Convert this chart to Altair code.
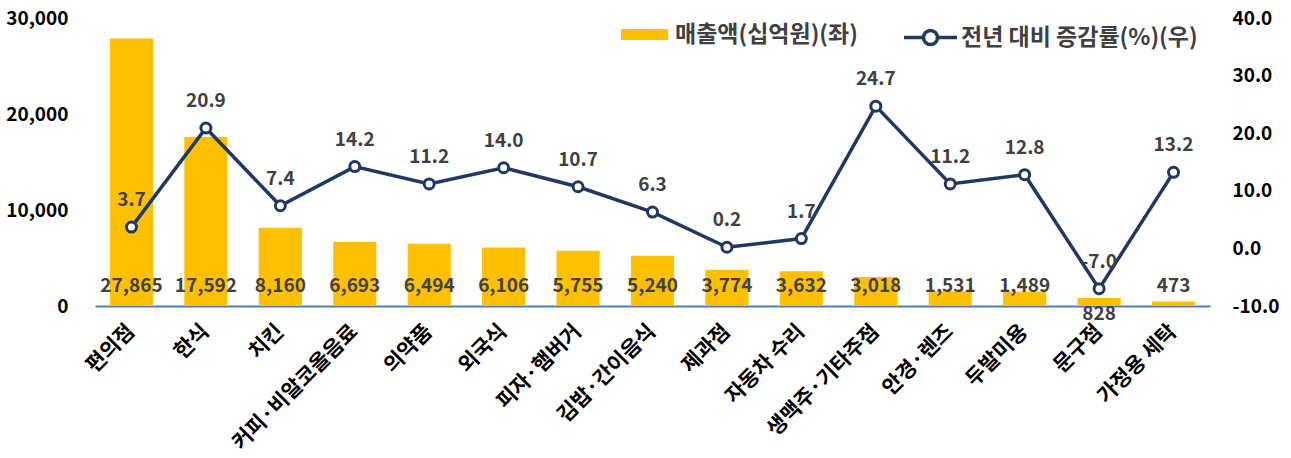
import altair as alt
import pandas as pd

categories = ["편의점", "한식", "치킨", "커피·비알코올음료", "의약품", "외국식", "피자·햄버거",
              "김밥·간이음식", "제과점", "자동차 수리", "생맥주·기타주점", "안경·렌즈", "두발미용",
              "문구점", "가정용 세탁"]
sales = [27865, 17592, 8160, 6693, 6494, 6106, 5755, 5240, 3774, 3632, 3018, 1531, 1489, 828, 473]
growth = [3.7, 20.9, 7.4, 14.2, 11.2, 14.0, 10.7, 6.3, 0.2, 1.7, 24.7, 11.2, 12.8, -7.0, 13.2]
bar_name = "매출액(십억원)(좌)"
line_name = "전년 대비 증감률(%)(우)"

df = pd.DataFrame({"cat": categories, "sales": sales, "growth": growth})
df["bar_series"] = bar_name
df["line_series"] = line_name

FONT = "Noto Sans CJK KR"
GOLD = "#FFC000"
NAVY = "#203864"
GRAY = "#404040"

x = alt.X("cat:N", sort=categories, title=None,
          scale=alt.Scale(paddingInner=0.42, paddingOuter=0.2),
          axis=alt.Axis(labelAngle=-45, labelFontSize=21, labelFontWeight="bold",
                        labelColor="#000000", labelFont=FONT, ticks=False,
                        domainColor="#4A7EBB", domainWidth=2, labelPadding=22,
                        labelAlign="right", labelBaseline="middle", labelLimit=0))

yl_scale = alt.Scale(domain=[0, 30000])
yr_scale = alt.Scale(domain=[-10, 40])

left_axis = alt.Axis(values=[0, 10000, 20000, 30000], labelExpr="format(datum.value, ',')",
                     grid=False, domain=False, ticks=False, labelFontSize=19,
                     labelFontWeight="bold", labelColor="#000000", labelFont=FONT,
                     labelPadding=27)
right_axis = alt.Axis(orient="right", values=[-10, 0, 10, 20, 30, 40],
                      labelExpr="replace(format(datum.value, '.1f'), '\u2212', '-')",
                      grid=False, domain=False, ticks=False, labelFontSize=19,
                      labelFontWeight="bold", labelColor="#000000", labelFont=FONT,
                      labelPadding=22)

base = alt.Chart(df)

bars = base.mark_bar(color=GOLD).encode(
    x=x,
    y=alt.Y("sales:Q", scale=yl_scale, title=None, axis=left_axis),
    color=alt.Color("bar_series:N", scale=alt.Scale(domain=[bar_name], range=[GOLD]),
                    legend=alt.Legend(orient="none", legendX=526, legendY=-7, title=None,
                                      labelFontSize=23, labelFontWeight="bold", labelColor=GRAY,
                                      labelFont=FONT, labelLimit=0, labelOffset=7,
                                      symbolType="M-1,-0.234H1V0.234H-1Z",
                                      symbolSize=2209, symbolStrokeWidth=0)),
)

bar_text = base.transform_calculate(zero="0").transform_filter(
    alt.datum.cat != "문구점").mark_text(
    dy=-20, fontSize=19, fontWeight="bold", color=GRAY, font=FONT, baseline="middle"
).encode(
    x=alt.X("cat:N", sort=categories),
    y=alt.Y("zero:Q", scale=yl_scale, title=None, axis=left_axis),
    text=alt.Text("sales:Q", format=","),
)

bar_text_low = base.transform_calculate(zero="0").transform_filter(
    alt.datum.cat == "문구점").mark_text(
    dy=8, fontSize=19, fontWeight="bold", color=GRAY, font=FONT, baseline="middle"
).encode(
    x=alt.X("cat:N", sort=categories),
    y=alt.Y("zero:Q", scale=yl_scale, title=None, axis=left_axis),
    text=alt.Text("sales:Q", format=","),
)

left = alt.layer(bars, bar_text, bar_text_low)

line = base.mark_line(strokeWidth=3.5).encode(
    x=alt.X("cat:N", sort=categories),
    y=alt.Y("growth:Q", scale=yr_scale, title=None, axis=right_axis),
    stroke=alt.Stroke("line_series:N", scale=alt.Scale(domain=[line_name], range=[NAVY]),
                      legend=alt.Legend(orient="none", legendX=807, legendY=-9, title=None,
                                        labelFontSize=23, labelFontWeight="bold", labelColor=GRAY,
                                        labelFont=FONT, labelLimit=0, labelOffset=2,
                                        symbolType="M-1,0H-0.264M0.264,0H1M0.264,0A0.264,0.264 0 1,1 -0.264,0A0.264,0.264 0 1,1 0.264,0",
                                        symbolSize=2809, symbolStrokeWidth=3.5,
                                        symbolFillColor="white")),
)

points = base.mark_point(filled=True, fill="white", stroke=NAVY, strokeWidth=3,
                         size=100, opacity=1, shape="circle").encode(
    x=alt.X("cat:N", sort=categories),
    y=alt.Y("growth:Q", scale=yr_scale, title=None, axis=right_axis),
)

line_text = base.transform_calculate(
    glabel="replace(format(datum.growth, '.1f'), '\u2212', '-')"
).mark_text(dy=-27, fontSize=19, fontWeight="bold", color=GRAY,
            font=FONT, baseline="middle").encode(
    x=alt.X("cat:N", sort=categories),
    y=alt.Y("growth:Q", scale=yr_scale, title=None, axis=right_axis),
    text=alt.Text("glabel:N"),
)

right = alt.layer(line, points, line_text)

chart = alt.layer(left, right).resolve_scale(y="independent").properties(
    width=1115, height=288,
    padding={"left": 95, "top": 18, "right": 81, "bottom": 152},
    autosize=alt.AutoSizeParams(type="none"),
    background="white",
).configure_view(stroke=None)

chart.save("out.html", embed_options={"renderer": "svg", "actions": False})
